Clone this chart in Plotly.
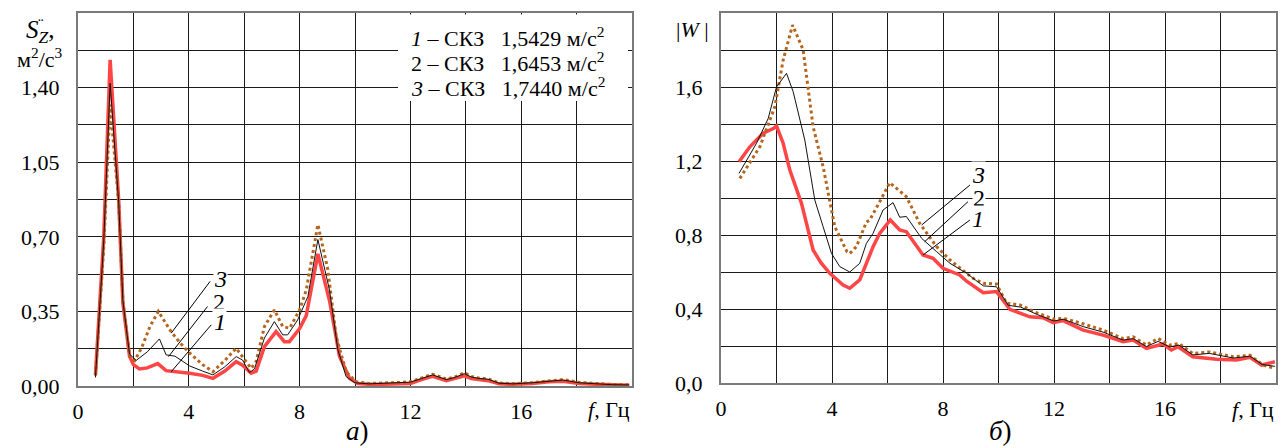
import plotly.graph_objects as go

# ---------------- data: panel a) spectral density ----------------
a1_x = [0.63, 0.78, 0.93, 1.16, 1.47, 1.62, 1.86, 2.0, 2.22, 2.5, 2.88, 3.18, 3.6, 4.03, 4.5, 4.87, 5.3, 5.71, 5.94,
        6.25, 6.43, 6.73, 7.15, 7.45, 7.63, 8.0, 8.24, 8.45, 8.66, 8.85, 9.08, 9.44, 9.8, 10.1, 10.5, 11.0, 11.5, 12.0,
        12.4, 12.8, 13.3, 13.6, 13.95, 14.2, 14.5, 14.8, 15.2, 15.7, 16.4, 17.0, 17.5, 18.1, 18.7, 19.3, 19.9]
a1_y = [0.05, 0.36, 0.70, 1.53, 0.87, 0.39, 0.14, 0.10, 0.08, 0.085, 0.105, 0.072, 0.068, 0.06, 0.05, 0.036, 0.07,
        0.114, 0.098, 0.06, 0.07, 0.185, 0.255, 0.208, 0.208, 0.27, 0.33, 0.48, 0.62, 0.52, 0.40, 0.14, 0.036, 0.012,
        0.008, 0.008, 0.01, 0.012, 0.03, 0.045, 0.025, 0.035, 0.048, 0.035, 0.028, 0.025, 0.01, 0.008, 0.012, 0.02,
        0.022, 0.012, 0.008, 0.004, 0.003]

a2_x = [0.63, 0.78, 0.93, 1.16, 1.47, 1.62, 1.86, 2.1, 2.5, 2.94, 3.18, 3.5, 4.03, 4.5, 4.87, 5.3, 5.71, 5.94, 6.19,
        6.37, 6.73, 7.09, 7.39, 7.57, 7.93, 8.3, 8.66, 9.08, 9.38, 9.68, 10.0, 10.5, 11.0, 11.5, 12.0, 12.4, 12.8,
        13.3, 13.6, 13.95, 14.2, 14.5, 14.8, 15.2, 15.7, 16.4, 17.0, 17.5, 18.1, 18.7, 19.3, 19.9]
a2_y = [0.04, 0.34, 0.68, 1.42, 0.86, 0.40, 0.15, 0.12, 0.16, 0.221, 0.146, 0.14, 0.094, 0.07, 0.052, 0.09, 0.138,
        0.122, 0.063, 0.08, 0.225, 0.302, 0.24, 0.24, 0.31, 0.42, 0.687, 0.45, 0.17, 0.044, 0.015, 0.01, 0.012, 0.015,
        0.018, 0.035, 0.052, 0.03, 0.04, 0.058, 0.042, 0.035, 0.032, 0.013, 0.01, 0.015, 0.022, 0.028, 0.015, 0.01,
        0.006, 0.005]

a3_x = [0.63, 0.78, 0.93, 1.16, 1.47, 1.62, 1.86, 2.05, 2.3, 2.6, 2.9, 3.36, 3.7, 4.03, 4.5, 4.87, 5.3, 5.71, 5.94,
        6.25, 6.43, 6.73, 7.09, 7.39, 7.64, 8.0, 8.24, 8.45, 8.66, 9.02, 9.32, 9.68, 10.04, 10.5, 11.0, 11.5, 12.0,
        12.4, 12.8, 13.3, 13.6, 13.95, 14.2, 14.5, 14.8, 15.2, 15.7, 16.4, 17.0, 17.5, 18.1, 18.7, 19.3, 19.9]
a3_y = [0.05, 0.33, 0.65, 1.32, 0.86, 0.40, 0.14, 0.12, 0.18, 0.28, 0.35, 0.255, 0.20, 0.155, 0.10, 0.067, 0.12,
        0.177, 0.138, 0.083, 0.114, 0.279, 0.357, 0.279, 0.271, 0.357, 0.45, 0.60, 0.757, 0.546, 0.232, 0.067, 0.02,
        0.012, 0.013, 0.016, 0.02, 0.038, 0.055, 0.032, 0.042, 0.062, 0.045, 0.036, 0.034, 0.014, 0.011, 0.016,
        0.024, 0.03, 0.017, 0.012, 0.007, 0.006]

# ---------------- data: panel б) |W| ----------------
b1_x = [0.65, 1.04, 1.52, 1.9, 2.0, 2.24, 2.48, 2.9, 3.32, 3.6, 3.92, 4.4, 4.64, 5.0, 5.48, 5.72, 6.1, 6.44, 6.68,
        7.28, 7.64, 8.0, 8.6, 8.85, 9.45, 9.93, 10.41, 11.13, 11.6, 11.97, 12.33, 13.05, 13.77, 14.49, 14.85, 15.33,
        15.93, 16.23, 16.47, 17.0, 17.86, 18.58, 19.06, 19.48, 19.96]
b1_y = [1.196, 1.277, 1.35, 1.377, 1.39, 1.296, 1.151, 0.971, 0.719, 0.65, 0.593, 0.53, 0.512, 0.557, 0.737, 0.809,
        0.881, 0.827, 0.818, 0.692, 0.674, 0.62, 0.584, 0.55, 0.488, 0.494, 0.398, 0.358, 0.353, 0.326, 0.337, 0.286,
        0.259, 0.223, 0.232, 0.187, 0.211, 0.178, 0.196, 0.142, 0.128, 0.124, 0.139, 0.097, 0.115]

b2_x = [0.65, 1.28, 1.7, 2.0, 2.36, 2.6, 3.02, 3.38, 3.68, 3.98, 4.28, 4.64, 5.0, 5.24, 5.48, 5.84, 6.2, 6.44, 6.68,
        7.23, 7.77, 8.25, 8.85, 9.45, 9.93, 10.35, 10.8, 11.4, 12.0, 12.33, 13.05, 13.77, 14.49, 14.85, 15.33, 15.75,
        16.17, 16.5, 17.0, 17.6, 18.46, 19.06, 19.5, 19.96]
b2_y = [1.133, 1.296, 1.43, 1.60, 1.674, 1.575, 1.313, 0.989, 0.845, 0.701, 0.629, 0.60, 0.647, 0.755, 0.809, 0.935,
        0.975, 0.896, 0.90, 0.782, 0.71, 0.647, 0.593, 0.525, 0.52, 0.42, 0.41, 0.37, 0.335, 0.345, 0.305, 0.275,
        0.232, 0.24, 0.197, 0.225, 0.195, 0.205, 0.152, 0.16, 0.135, 0.145, 0.10, 0.09]

b3_x = [0.68, 1.4, 1.94, 2.24, 2.58, 2.96, 3.32, 3.68, 4.1, 4.54, 4.64, 4.88, 5.24, 5.36, 5.72, 6.08, 6.68, 7.16,
        7.77, 8.25, 9.08, 9.45, 9.93, 10.29, 10.77, 11.37, 12.0, 12.33, 13.05, 13.77, 14.49, 14.85, 15.33, 15.75,
        16.17, 16.5, 17.0, 17.6, 18.46, 19.06, 19.54, 19.96]
b3_y = [1.106, 1.277, 1.493, 1.746, 1.935, 1.80, 1.385, 1.169, 0.845, 0.71, 0.70, 0.737, 0.87, 0.881, 0.98, 1.083,
        1.007, 0.863, 0.737, 0.665, 0.566, 0.539, 0.535, 0.431, 0.422, 0.38, 0.345, 0.35, 0.32, 0.286, 0.24, 0.25,
        0.205, 0.241, 0.205, 0.214, 0.16, 0.168, 0.142, 0.15, 0.097, 0.079]

x_ticks = list(range(0, 21, 2))
x_ticktext = ["0", "", "4", "", "8", "", "12", "", "16", "", ""]
ya_ticks = [round(i * 0.175, 3) for i in range(11)]
ya_ticktext = ["0,00", "", "0,35", "", "0,70", "", "1,05", "", "1,40", "", ""]
yb_ticks = [round(i * 0.2, 1) for i in range(11)]
yb_ticktext = ["0,0", "", "0,4", "", "0,8", "", "1,2", "", "1,6", "", ""]

legend_lines = ["<i>1</i> – СКЗ  1,5429 м/с<sup>2</sup>",
                "2 – СКЗ  1,6453 м/с<sup>2</sup>",
                "<i>3</i> – СКЗ  1,7440 м/с<sup>2</sup>"]

FONT = "Liberation Serif, Times New Roman, Tinos, DejaVu Serif, serif"
RED = "#ff4545"
BLACK = "#111111"
BROWN = "#b5651d"

W, H = 1287, 448

fig = go.Figure()

def add_set(xs, ys, xa, ya):
    (x1, x2, x3), (y1, y2, y3) = xs, ys
    fig.add_trace(go.Scatter(x=x1, y=y1, xaxis=xa, yaxis=ya, mode="lines",
                             line=dict(color=RED, width=3.5), showlegend=False))
    fig.add_trace(go.Scatter(x=x3, y=y3, xaxis=xa, yaxis=ya, mode="lines",
                             line=dict(color=BROWN, width=3, dash="dot"), showlegend=False))
    fig.add_trace(go.Scatter(x=x2, y=y2, xaxis=xa, yaxis=ya, mode="lines",
                             line=dict(color=BLACK, width=1), showlegend=False))

add_set((a1_x, a2_x, a3_x), (a1_y, a2_y, a3_y), "x", "y")
add_set((b1_x, b2_x, b3_x), (b1_y, b2_y, b3_y), "x2", "y2")

def px_x(p):
    return p / W

def px_y(p):
    return 1 - p / H

axis_common = dict(showgrid=True, gridcolor="#1a1a1a", gridwidth=1, showline=True, linecolor="#7a7a7a",
                   linewidth=2, mirror=True, zeroline=False, ticks="", automargin=False,
                   tickfont=dict(family=FONT, size=22, color="#000"))

fig.update_layout(
    width=W, height=H, autosize=False,
    margin=dict(l=0, r=0, t=0, b=0),
    paper_bgcolor="white", plot_bgcolor="white",
    font=dict(family=FONT, color="black"),
    xaxis=dict(domain=[px_x(78), px_x(632)], range=[0, 20], anchor="y", tickmode="array",
               tickvals=x_ticks, ticktext=x_ticktext, ticklabelstandoff=5, **axis_common),
    yaxis=dict(domain=[px_y(386), px_y(13)], range=[0, 1.75], anchor="x", tickmode="array",
               tickvals=ya_ticks, ticktext=ya_ticktext, ticklabelstandoff=12, **axis_common),
    xaxis2=dict(domain=[px_x(721), px_x(1276)], range=[0, 20], anchor="y2", tickmode="array",
                tickvals=x_ticks, ticktext=x_ticktext, ticklabelstandoff=5, **axis_common),
    yaxis2=dict(domain=[px_y(383), px_y(13)], range=[0, 2.0], anchor="x2", tickmode="array",
                tickvals=yb_ticks, ticktext=yb_ticktext, ticklabelstandoff=12, **axis_common),
)

shapes = []
# white box behind the legend text (hides grid lines)
shapes.append(dict(type="rect", xref="paper", yref="paper", x0=px_x(398), x1=px_x(628), y0=px_y(101), y1=px_y(14.5),
                   fillcolor="white", line=dict(width=0), layer="above"))
# leader lines panel a
lead_a = [((4.77, 0.491), (3.365, 0.248)), ((4.675, 0.373), (3.267, 0.138)), ((4.81, 0.287), (3.365, 0.067))]
for (p, q) in lead_a:
    shapes.append(dict(type="line", xref="x", yref="y", x0=p[0], y0=p[1], x1=q[0], y1=q[1],
                       line=dict(color="black", width=1), layer="above"))
lead_b = [((8.97, 1.07), (7.23, 0.854)), ((8.90, 0.98), (7.34, 0.764)), ((8.97, 0.881), (7.28, 0.692))]
for (p, q) in lead_b:
    shapes.append(dict(type="line", xref="x2", yref="y2", x0=p[0], y0=p[1], x1=q[0], y1=q[1],
                       line=dict(color="black", width=1), layer="above"))
fig.update_layout(shapes=shapes)

ann = []
def text(x, y, s, size=21, xanchor="center", yanchor="middle", xref="paper", yref="paper", bg=None, align="left"):
    d = dict(x=x, y=y, xref=xref, yref=yref, text=s, showarrow=False, xanchor=xanchor, yanchor=yanchor,
             font=dict(family=FONT, size=size, color="black"), align=align)
    if bg:
        d["bgcolor"] = bg
        d["borderpad"] = 0
    ann.append(d)

# legend text
for i, s in enumerate(legend_lines):
    text(px_x(409), px_y(37 + i * 25), s.replace("  ", "\u2002 "), size=22, xanchor="left")

# curve labels
text(5.15, 0.503, "<i>3</i>", size=24, xref="x", yref="y", bg="white")
text(5.08, 0.395, "2", size=24, xref="x", yref="y", bg="white")
text(5.11, 0.301, "<i>1</i>", size=24, xref="x", yref="y", bg="white")
text(9.29, 1.124, "<i>3</i>", size=24, xref="x2", yref="y2", bg="white")
text(9.28, 1.0, "2", size=24, xref="x2", yref="y2", bg="white")
text(9.25, 0.886, "<i>1</i>", size=24, xref="x2", yref="y2", bg="white")

# axis titles
text(px_x(40), px_y(32), "<i>S</i><sub><i>Z</i></sub>,", size=25)
text(px_x(40), px_y(25), "<i>\u00a8</i>", size=16)
text(px_x(40), px_y(58), "м<sup>2</sup>/с<sup>3</sup>", size=22)
text(px_x(692), px_y(29), "|<i>W</i> |", size=22)
text(px_x(609), px_y(409), "<i>f</i>, Гц", size=22)
text(px_x(1253), px_y(409), "<i>f</i>, Гц", size=22)

# panel captions
text(px_x(357), px_y(431), "<i>а</i>)", size=27)
text(px_x(1000), px_y(431), "<i>б</i>)", size=27)

fig.update_layout(annotations=ann)

fig.write_html("out.html", config={"displayModeBar": False},
               post_script="document.body.style.margin='0';document.body.style.overflow='hidden';"
                           "document.documentElement.style.overflow='hidden';")
